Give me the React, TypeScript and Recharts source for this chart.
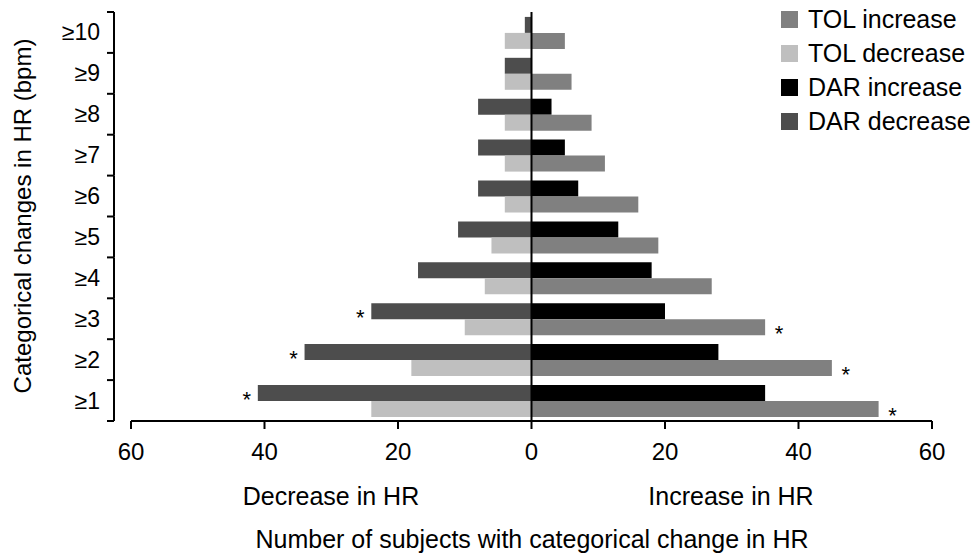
import { Bar, BarChart, LabelList, ReferenceLine, XAxis, YAxis } from 'recharts';

// categories top -> bottom (≥1 sits at the bottom)
const categories = ['≥10', '≥9', '≥8', '≥7', '≥6', '≥5', '≥4', '≥3', '≥2', '≥1'];
const tolIncrease = [5, 6, 9, 11, 16, 19, 27, 35, 45, 52];
const tolDecrease = [4, 4, 4, 4, 4, 6, 7, 10, 18, 24];
const darIncrease = [0, 0, 3, 5, 7, 13, 18, 20, 28, 35];
const darDecrease = [1, 4, 8, 8, 8, 11, 17, 24, 34, 41];
const tolIncStar = ['', '', '', '', '', '', '', '*', '*', '*'];
const darDecStar = ['', '', '', '', '', '', '', '*', '*', '*'];
const xTicks = [-60, -40, -20, 0, 20, 40, 60];

const data = categories.map((cat, i) => ({
  cat,
  tolInc: tolIncrease[i],
  tolDec: -tolDecrease[i],
  darInc: darIncrease[i],
  darDec: -darDecrease[i],
  tolStar: tolIncStar[i],
  darStar: darDecStar[i],
}));

const legendItems = [
  { label: 'TOL increase', color: '#808080' },
  { label: 'TOL decrease', color: '#bfbfbf' },
  { label: 'DAR increase', color: '#000000' },
  { label: 'DAR decrease', color: '#4d4d4d' },
];

const FONT = '"Liberation Sans", Arial, Helvetica, sans-serif';
const PLOT_TOP = 12;
const PLOT_BOTTOM = 421;
const BAND = (PLOT_BOTTOM - PLOT_TOP) / categories.length;
const AXIS_X = 114;

function YTick(props: any) {
  const { y, payload, index } = props;
  const top = y - BAND / 2;
  const bottom = y + BAND / 2;
  return (
    <g>
      <line x1={AXIS_X} x2={AXIS_X} y1={top} y2={bottom} stroke="#000" strokeWidth={2} />
      <line x1={AXIS_X - 7} x2={AXIS_X} y1={top} y2={top} stroke="#000" strokeWidth={2} />
      {index === categories.length - 1 && (
        <line x1={AXIS_X - 7} x2={AXIS_X} y1={bottom} y2={bottom} stroke="#000" strokeWidth={2} />
      )}
      <text x={100} y={y} dy={8} textAnchor="end" fontSize={23} fill="#000">
        {payload.value}
      </text>
    </g>
  );
}

function star(side: 'left' | 'right') {
  return (props: any) => {
    const { value } = props;
    if (!value) return null;
    const vb = props.viewBox ?? props;
    const x = vb.x ?? props.x;
    const y = vb.y ?? props.y;
    const w = vb.width ?? props.width;
    const h = vb.height ?? props.height;
    const cx = side === 'left' ? Math.min(x, x + w) - 11 : Math.max(x, x + w) + 14;
    const cy = y + h / 2 + 2;
    return (
      <text x={cx} y={cy + 12} textAnchor="middle" fontSize={22} fill="#000">
        {value}
      </text>
    );
  };
}

export default function App() {
  return (
    <div style={{ position: 'absolute', left: 0, top: 0, width: 974, height: 555, fontFamily: FONT, background: '#fff' }}>
      <BarChart
        width={974}
        height={555}
        data={data}
        layout="vertical"
        stackOffset="sign"
        barCategoryGap="12%"
        barGap={0}
        margin={{ top: PLOT_TOP, right: 42, bottom: 94, left: 0 }}
      >
        <XAxis
          type="number"
          domain={[-60, 60]}
          ticks={xTicks}
          tickFormatter={(v: number) => String(Math.abs(v))}
          height={40}
          axisLine={{ stroke: '#000', strokeWidth: 2 }}
          tickLine={{ stroke: '#000', strokeWidth: 2 }}
          tickSize={8}
          tickMargin={14}
          tick={{ fill: '#000', fontSize: 24 }}
          label={() => (
            <g fontSize={25} fill="#000">
              <text x={331} y={505} textAnchor="middle">Decrease in HR</text>
              <text x={731} y={505} textAnchor="middle">Increase in HR</text>
              <text x={532} y={548} textAnchor="middle">Number of subjects with categorical change in HR</text>
            </g>
          )}
        />
        <YAxis
          type="category"
          dataKey="cat"
          width={131}
          interval={0}
          axisLine={false}
          tickLine={false}
          tick={(p: any) => <YTick {...p} />}
          label={() => (
            <text x={31} y={216} transform="rotate(-90 31 216)" textAnchor="middle" fontSize={24} fill="#000">
              Categorical changes in HR (bpm)
            </text>
          )}
        />
        <Bar dataKey="darInc" stackId="dar" fill="#000000" isAnimationActive={false} />
        <Bar dataKey="darDec" stackId="dar" fill="#4d4d4d" isAnimationActive={false}>
          <LabelList dataKey="darStar" content={star('left')} />
        </Bar>
        <Bar dataKey="tolInc" stackId="tol" fill="#808080" isAnimationActive={false}>
          <LabelList dataKey="tolStar" content={star('right')} />
        </Bar>
        <Bar dataKey="tolDec" stackId="tol" fill="#bfbfbf" isAnimationActive={false} />
        <ReferenceLine x={0} stroke="#000" strokeWidth={2} />
      </BarChart>
      <div style={{ position: 'absolute', left: 781, top: 2 }}>
        {legendItems.map((it) => (
          <div key={it.label} style={{ display: 'flex', alignItems: 'center', height: 34, fontSize: 25, color: '#000' }}>
            <span style={{ width: 17, height: 17, background: it.color, marginRight: 10, display: 'inline-block' }} />
            <span style={{ lineHeight: '34px', whiteSpace: 'nowrap' }}>{it.label}</span>
          </div>
        ))}
      </div>
    </div>
  );
}
